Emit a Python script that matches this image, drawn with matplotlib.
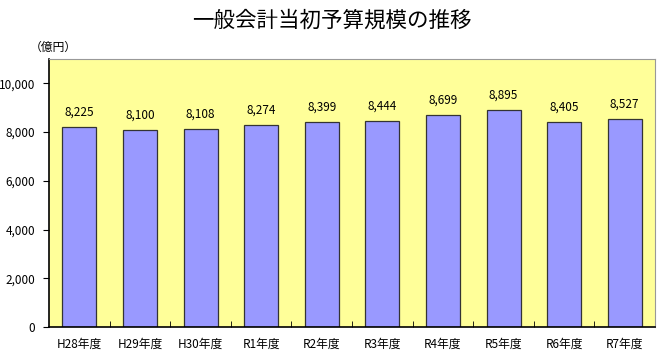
import numpy as np
import matplotlib.pyplot as plt
from matplotlib.ticker import FuncFormatter, MultipleLocator

plt.rcParams['font.family'] = ['Noto Sans CJK JP', 'DejaVu Sans']

years = ['H28年度', 'H29年度', 'H30年度', 'R1年度', 'R2年度',
         'R3年度', 'R4年度', 'R5年度', 'R6年度', 'R7年度']
budget = [8225, 8100, 8108, 8274, 8399, 8444, 8699, 8895, 8405, 8527]

fig = plt.figure(figsize=(6.63, 3.61), dpi=100)
ax = fig.add_axes([0.074, 0.094, 0.914, 0.743])
ax.set_facecolor('#FFFF99')

x = np.arange(len(years))
bars = ax.bar(x, budget, width=0.56, color='#9999FF', edgecolor='#333333', linewidth=0.9)
for xi, v in zip(x, budget):
    ax.annotate(f'{v:,}', (xi, v), xytext=(0, 6), textcoords='offset points',
                ha='center', va='bottom', fontsize=8.5)

ax.set_xlim(-0.5, len(years) - 0.5)
ax.set_ylim(0, 11000)
ax.yaxis.set_major_locator(MultipleLocator(2000))
ax.yaxis.set_major_formatter(FuncFormatter(lambda v, p: f'{int(v):,}'))
ax.tick_params(axis='y', direction='out', length=4, labelsize=8.5, pad=6)

ax.set_xticks(x)
ax.set_xticklabels(years, fontsize=8.5)
ax.tick_params(axis='x', length=0, pad=8)
ax.set_xticks(np.arange(0.5, len(years) - 1, 1), minor=True)
ax.tick_params(axis='x', which='minor', direction='in', length=4)

for side in ['top', 'right']:
    ax.spines[side].set_color('#999999')
for side in ['left', 'bottom']:
    ax.spines[side].set_color('black')
    ax.spines[side].set_linewidth(1.2)

fig.text(0.5, 0.942, '一般会計当初予算規模の推移', ha='center', va='center', fontsize=15.5)
fig.text(0.045, 0.868, '（億円）', ha='left', va='center', fontsize=8.5)

fig.savefig('out.png', dpi=100)
